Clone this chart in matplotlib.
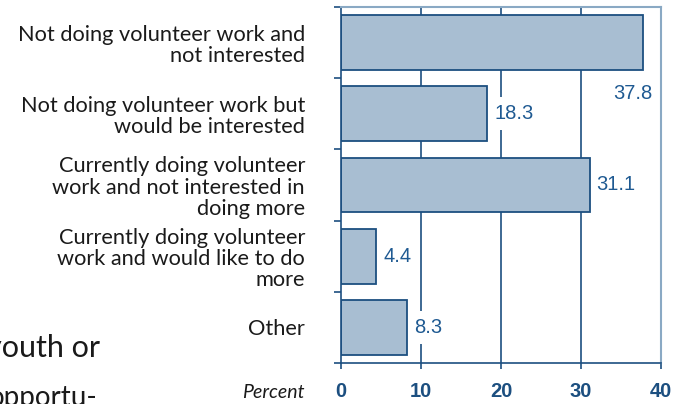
import numpy as np
import matplotlib.pyplot as plt
import matplotlib

matplotlib.rcParams['font.family'] = ['Lato', 'DejaVu Sans']

categories = ['Not doing volunteer work and\nnot interested',
              'Not doing volunteer work but\nwould be interested',
              'Currently doing volunteer\nwork and not interested in\ndoing more',
              'Currently doing volunteer\nwork and would like to do\nmore',
              'Other']
values = [37.8, 18.3, 31.1, 4.4, 8.3]
xticks = [0, 10, 20, 30, 40]

dark = '#1c4f80'
light = '#8aa9c4'
fill = '#a8bed2'
numcol = '#1f5a92'
txt = '#1a1a1a'

fig = plt.figure(figsize=(6.85, 4.04), dpi=100)
ax = fig.add_axes([341/685, 1-363/404, 320/685, 356/404])

y = np.arange(len(values))
ax.barh(y, values, height=0.77, color=fill, edgecolor=dark, linewidth=1.3, zorder=2)

# gridlines (light one at 40 is the frame)
for xv in xticks[1:-1]:
    ax.axvline(xv, color=dark, lw=1.2, zorder=0.5)

ax.set_xlim(0, 40)
ax.set_ylim(4.5, -0.5)

# value labels, white box breaks the gridlines
for i, v in enumerate(values):
    if i == 0:
        ax.text(v - 1.3, i + 0.72, f'{v}', ha='center', va='center', fontsize=14.5,
                color=numcol, family='Liberation Sans', zorder=1)
    else:
        ax.text(v + 0.85, i, f'{v}', ha='left', va='center', fontsize=14.5, color=numcol,
                family='Liberation Sans', zorder=1,
                bbox=dict(boxstyle='square,pad=0.35', fc='white', ec='none'))

ax.spines['left'].set_color(dark)
ax.spines['bottom'].set_color(dark)
ax.spines['left'].set_linewidth(1.2)
ax.spines['bottom'].set_linewidth(1.2)
ax.spines['top'].set_color(light)
ax.spines['right'].set_color(light)
ax.spines['top'].set_linewidth(1.5)
ax.spines['right'].set_linewidth(1.5)

ax.set_xticks(xticks)
ax.set_xticklabels([str(t) for t in xticks], fontsize=14.5, fontweight='bold',
                   color=dark, family='Liberation Sans')
ax.tick_params(axis='x', direction='out', length=4, width=1.2, color=dark, pad=10)

ax.set_yticks(y)
ax.set_yticklabels(categories, fontsize=15.7, color=txt, linespacing=1.08)
ax.tick_params(axis='y', which='major', length=0, pad=26)
ax.set_yticks(np.arange(-0.5, 5, 1), minor=True)
ax.tick_params(axis='y', which='minor', direction='out', length=5, width=1.2, color=dark)

fig.text(305/685, 1-393/404, 'Percent', ha='right', va='center', fontsize=14,
         style='italic', color=txt)

# text spilling in from the neighbouring column
fig.text(100/685, 1-348/404, 'youth or', ha='right', va='center', fontsize=22,
         color=txt)
fig.text(98/685, 1-398/404, 'opportu-', ha='right', va='center', fontsize=20,
         color=txt)

fig.savefig('out.png', dpi=100)
